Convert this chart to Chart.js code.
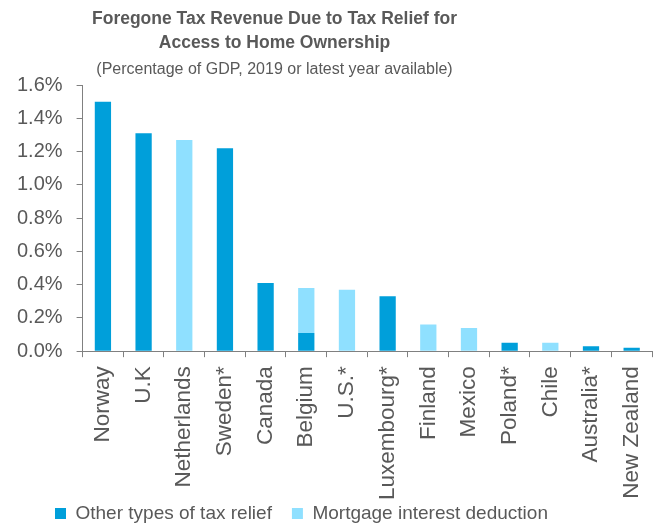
<!DOCTYPE html>
<html>
<head>
<meta charset="utf-8">
<script src="https://cdn.jsdelivr.net/npm/chart.js@4/dist/chart.umd.min.js"></script>
<style>
  html, body { margin: 0; padding: 0; background: #fff; }
  .wrap { width: 656px; height: 529px; }
</style>
</head>
<body>
<div class="wrap"><canvas id="myChart" width="656" height="529"></canvas></div>
<script>
const countries = ["Norway", "U.K", "Netherlands", "Sweden*", "Canada", "Belgium", "U.S.*", "Luxembourg*", "Finland", "Mexico", "Poland*", "Chile", "Australia*", "New Zealand"]
// % of GDP (null = no bar)
const otherRelief = [1.50, 1.31, null, 1.22, 0.41, 0.11, null, 0.33, null, null, 0.05, null, 0.03, 0.02]
const mortgageDeduction = [null, null, 1.27, null, null, 0.27, 0.37, null, 0.16, 0.14, null, 0.05, null, null]
const yTicks = [0, 0.2, 0.4, 0.6, 0.8, 1.0, 1.2, 1.4, 1.6]

const DARK = "#009fda"
const LIGHT = "#8fe0ff"
const TEXT = "#595959"
const AXIS = "#808080"
const FONT = "'Liberation Sans', Arial, sans-serif"

// the original title sits left of centre and its legend starts near the left edge
const nudge = {
  id: "nudge",
  afterLayout(chart) {
    chart.boxes.forEach(b => {
      if (b.options && b.options.text !== undefined && b.position === "top") {
        b.left -= 53
        b.right -= 53
      }
    })
    chart.legend.left += 32
    chart.legend.top -= 25
  }
}

const ctx = document.getElementById("myChart")
const myChart = new Chart(ctx, {
  type: "bar",
  data: {
    labels: countries,
    datasets: [{
      label: "Other types of tax relief",
      data: otherRelief,
      backgroundColor: DARK
    }, {
      label: "Mortgage interest deduction",
      data: mortgageDeduction,
      backgroundColor: LIGHT
    }]
  },
  options: {
    responsive: false,
    animation: false,
    categoryPercentage: 1,
    barPercentage: 0.4,
    layout: { padding: { left: 3, right: 4, top: 0, bottom: 0 } },
    plugins: {
      title: {
        display: true,
        text: ["Foregone Tax Revenue Due to Tax Relief for", "Access to Home Ownership"],
        color: TEXT,
        font: { family: FONT, size: 17.5, weight: "bold", lineHeight: 1.37 },
        padding: { top: 7, bottom: 2 }
      },
      subtitle: {
        display: true,
        text: "(Percentage of GDP, 2019 or latest year available)",
        color: TEXT,
        font: { family: FONT, size: 16, lineHeight: 1.2 },
        padding: { top: 3, bottom: 6 }
      },
      legend: {
        position: "bottom",
        align: "start",
        maxHeight: 20,
        labels: {
          color: TEXT,
          font: { family: FONT, size: 19 },
          boxWidth: 11,
          boxHeight: 11,
          padding: 20
        }
      },
      tooltip: { enabled: false }
    },
    scales: {
      x: {
        stacked: true,
        grid: { drawOnChartArea: false, drawTicks: true, tickLength: 6, color: AXIS },
        border: { color: AXIS },
        ticks: {
          color: TEXT,
          font: { family: FONT, size: 22.5 },
          minRotation: 90,
          maxRotation: 90,
          padding: 9,
          autoSkip: false
        },
        afterFit(scale) {
          scale.paddingRight = 0
        }
      },
      y: {
        stacked: true,
        min: 0,
        max: 1.6,
        afterBuildTicks(axis) {
          axis.ticks = yTicks.map(v => ({ value: v }))
        },
        grid: { drawOnChartArea: false, drawTicks: true, tickLength: 6, color: AXIS },
        border: { color: AXIS },
        ticks: {
          color: TEXT,
          font: { family: FONT, size: 20 },
          padding: 14,
          callback: v => v.toFixed(1) + "%"
        }
      }
    }
  },
  plugins: [nudge]
})
</script>
</body>
</html>
